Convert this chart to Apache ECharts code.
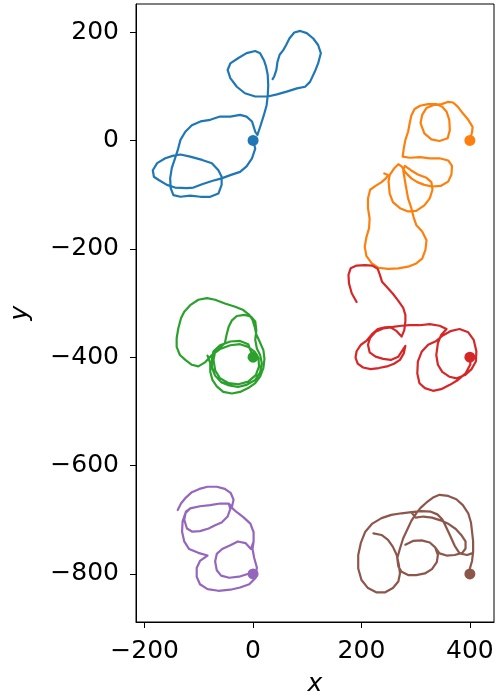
<!DOCTYPE html>
<html>
<head>
<meta charset="utf-8">
<script src="https://cdn.jsdelivr.net/npm/echarts@6/dist/echarts.min.js"></script>
<style>
  html, body { margin: 0; padding: 0; background: #fff; }
  #chart { width: 503px; height: 698px; }
</style>
</head>
<body>
<div id="chart"></div>
<script>
// Six 2-D random walks, each starting at a grid point (dot marks the start).
const walkBlue = [[0,0],[4,-15],[-2,-33],[-12,-48],[-24,-58],[-42,-64],[-58,-70],[-76,-75],[-94,-81],[-110,-87],[-122,-88],[-144,-87],[-159,-82],[-174,-73],[-183,-67],[-185,-55],[-177,-42],[-162,-33],[-147,-28],[-134,-26],[-116,-30],[-94,-36],[-76,-42],[-64,-55],[-58,-67],[-58,-82],[-64,-98],[-79,-104],[-97,-104],[-116,-102],[-134,-104],[-147,-101],[-152,-88],[-153,-70],[-150,-51],[-144,-33],[-139,-18],[-134,1],[-125,16],[-113,28],[-97,35],[-79,38],[-61,44],[-42,44],[-24,47],[-12,44],[-2,35],[4,16],[8,10],[14,28],[20,47],[25,65],[27,82],[28,102],[27,121],[24,136],[20,148],[13,161],[4,165],[-12,161],[-27,152],[-42,142],[-47,130],[-42,115],[-30,99],[-15,87],[4,81],[27,81],[44,85],[62,90],[81,96],[96,99],[105,108],[114,127],[120,142],[125,161],[120,176],[111,188],[99,198],[87,202],[76,199],[67,188],[61,176],[56,167],[49,158],[45,145],[43,130],[39,118],[36,113]];

const walkOrange = [[400,0],[404,15],[405,25],[397,38],[387,50],[378,62],[369,70],[359,71],[348,67],[332,65],[320,60],[312,47],[309,32],[316,13],[329,2],[344,-1],[359,4],[363,19],[362,38],[357,53],[349,62],[338,67],[323,67],[308,64],[298,58],[292,46],[289,32],[286,16],[281,1],[278,-15],[276,-30],[289,-32],[308,-31],[326,-33],[344,-33],[360,-37],[367,-47],[366,-63],[360,-76],[346,-84],[330,-85],[316,-82],[303,-77],[292,-70],[281,-59],[274,-48],[268,-44],[260,-52],[252,-64],[250,-76],[252,-98],[258,-114],[271,-125],[286,-131],[301,-130],[316,-120],[326,-107],[331,-91],[329,-77],[320,-69],[304,-63],[291,-55],[280,-47],[277,-55],[279,-67],[282,-85],[286,-107],[292,-125],[296,-141],[301,-156],[312,-168],[320,-184],[318,-202],[312,-218],[301,-227],[286,-233],[268,-236],[249,-237],[231,-235],[219,-227],[209,-213],[206,-196],[209,-179],[214,-162],[215,-144],[212,-125],[212,-107],[216,-91],[226,-84],[237,-77],[246,-69],[249,-64],[242,-61]];

const walkGreen = [[0,-400],[-9,-376],[-24,-370],[-42,-371],[-61,-378],[-73,-389],[-76,-402],[-76,-419],[-70,-434],[-59,-446],[-44,-452],[-28,-455],[-12,-451],[4,-442],[13,-428],[16,-411],[13,-396],[7,-384],[4,-368],[6,-350],[4,-334],[-4,-325],[-16,-322],[-30,-324],[-39,-332],[-45,-344],[-49,-359],[-52,-374],[-70,-390],[-73,-405],[-70,-424],[-61,-439],[-45,-448],[-27,-450],[-9,-445],[5,-433],[11,-417],[10,-402],[3,-390],[-9,-381],[-24,-376],[-42,-378],[-61,-385],[-76,-396],[-88,-409],[-101,-417],[-113,-414],[-125,-405],[-135,-396],[-141,-381],[-141,-365],[-138,-347],[-133,-328],[-127,-316],[-116,-304],[-101,-294],[-85,-291],[-70,-294],[-52,-301],[-33,-307],[-18,-313],[-7,-322],[-1,-331],[3,-344],[6,-358],[12,-371],[19,-387],[21,-403],[19,-420],[13,-436],[4,-448],[-9,-457],[-24,-464],[-39,-467],[-55,-464],[-67,-454],[-75,-442],[-79,-427],[-79,-411],[-84,-397]];

const walkRed = [[400,-400],[401,-413],[392,-430],[378,-442],[363,-451],[347,-459],[332,-462],[317,-457],[307,-448],[303,-430],[304,-408],[311,-390],[323,-377],[338,-370],[350,-360],[364,-352],[381,-348],[397,-354],[407,-368],[412,-389],[411,-408],[403,-422],[391,-433],[376,-439],[362,-436],[349,-427],[341,-414],[338,-396],[341,-374],[347,-359],[357,-348],[344,-342],[326,-339],[307,-341],[289,-341],[274,-342],[258,-344],[243,-345],[230,-348],[219,-358],[209,-370],[199,-377],[191,-389],[189,-401],[193,-412],[203,-419],[217,-422],[232,-420],[247,-417],[260,-412],[271,-405],[278,-393],[281,-379],[268,-399],[254,-405],[240,-403],[226,-399],[215,-391],[212,-377],[216,-364],[226,-353],[240,-347],[254,-345],[265,-352],[274,-362],[279,-350],[281,-334],[281,-322],[277,-309],[268,-296],[258,-283],[248,-272],[238,-261],[234,-248],[230,-237],[220,-231],[206,-230],[191,-231],[180,-236],[176,-248],[177,-264],[182,-282],[191,-298]];

const walkPurple = [[0,-800],[-10,-800],[-26,-805],[-44,-807],[-59,-803],[-67,-793],[-70,-777],[-67,-763],[-57,-754],[-42,-747],[-28,-740],[-14,-743],[-4,-754],[1,-740],[1,-723],[-5,-707],[-18,-695],[-30,-686],[-39,-678],[-30,-686],[-18,-695],[-5,-707],[1,-723],[1,-740],[-1,-754],[2,-770],[7,-788],[4,-808],[-7,-819],[-24,-825],[-42,-829],[-64,-831],[-84,-828],[-98,-819],[-104,-805],[-104,-789],[-98,-776],[-84,-766],[-101,-761],[-118,-754],[-127,-740],[-131,-722],[-130,-703],[-125,-688],[-116,-679],[-98,-675],[-79,-673],[-61,-670],[-45,-670],[-42,-680],[-47,-694],[-58,-705],[-70,-710],[-82,-716],[-98,-721],[-112,-722],[-122,-716],[-127,-700],[-124,-685],[-116,-679],[-98,-675],[-79,-673],[-61,-670],[-45,-670],[-39,-676],[-36,-663],[-41,-651],[-52,-643],[-67,-639],[-84,-639],[-99,-643],[-113,-649],[-124,-659],[-133,-670],[-139,-682]];

const walkBrown = [[400,-800],[400,-790],[404,-776],[406,-759],[406,-740],[404,-722],[402,-705],[397,-688],[387,-673],[375,-662],[360,-656],[344,-654],[332,-659],[320,-668],[309,-678],[301,-688],[292,-702],[285,-717],[277,-734],[271,-753],[266,-771],[268,-786],[274,-796],[286,-802],[301,-802],[317,-799],[330,-791],[339,-778],[341,-765],[336,-751],[326,-742],[311,-738],[295,-739],[281,-746],[295,-739],[311,-738],[326,-742],[336,-751],[344,-762],[357,-766],[372,-765],[386,-761],[392,-753],[392,-740],[384,-728],[374,-717],[361,-708],[346,-701],[330,-696],[314,-694],[300,-696],[292,-686],[311,-684],[328,-685],[340,-690],[349,-699],[355,-711],[363,-728],[372,-748],[381,-762],[395,-765],[406,-761],[395,-765],[381,-762],[372,-748],[363,-728],[355,-711],[349,-699],[340,-690],[328,-685],[311,-684],[292,-686],[274,-688],[255,-691],[237,-697],[220,-707],[207,-722],[199,-742],[194,-765],[194,-790],[200,-811],[212,-826],[228,-834],[243,-834],[258,-826],[268,-814],[271,-799],[269,-783],[265,-765],[258,-750],[249,-737],[237,-728],[222,-725]];

const walks = [walkBlue, walkOrange, walkGreen, walkRed, walkPurple, walkBrown];
const colors = ['#1f77b4', '#ff7f0e', '#2ca02c', '#d62728', '#9467bd', '#8c564b'];

const xTicks = [-200, 0, 200, 400];
const yTicks = [200, 0, -200, -400, -600, -800];

const minusSign = v => String(v).replace('-', '\u2212');
const font = 'DejaVu Sans';

const series = [];
walks.forEach((w, i) => {
  series.push({
    type: 'line',
    data: w,
    showSymbol: false,
    symbol: 'none',
    lineStyle: { color: colors[i], width: 2.2, join: 'round', cap: 'round' },
    z: 2,
    silent: true,
    animation: false
  });
});
walks.forEach((w, i) => {
  series.push({
    type: 'scatter',
    data: [w[0]],
    symbolSize: 11,
    itemStyle: { color: colors[i], opacity: 1 },
    z: 3,
    silent: true,
    animation: false
  });
});

const chart = echarts.init(document.getElementById('chart'), null, { renderer: 'canvas' });
chart.setOption({
  backgroundColor: '#fff',
  animation: false,
  grid: {
    left: 136, right: 9, top: 4, bottom: 76,
    containLabel: false,
    outerBoundsMode: 'none',
    show: true, borderColor: '#000', borderWidth: 1, backgroundColor: 'transparent'
  },
  xAxis: {
    type: 'value',
    min: -216, max: 444.5,
    name: 'x',
    nameLocation: 'middle',
    nameGap: 50,
    nameTextStyle: { fontFamily: font, fontSize: 25, fontStyle: 'italic', color: '#000' },
    axisLine: { show: true, onZero: false, lineStyle: { color: '#000', width: 1 } },
    axisTick: { show: true, length: 6, lineStyle: { color: '#000', width: 1 }, customValues: xTicks },
    axisLabel: { fontFamily: font, fontSize: 25, color: '#000', margin: 17, customValues: xTicks, formatter: minusSign },
    splitLine: { show: false }
  },
  yAxis: {
    type: 'value',
    min: -888.6, max: 251.7,
    name: 'y',
    nameLocation: 'middle',
    nameGap: 103,
    nameRotate: 90,
    nameTextStyle: { fontFamily: font, fontSize: 25, fontStyle: 'italic', color: '#000' },
    axisLine: { show: true, onZero: false, lineStyle: { color: '#000', width: 1 } },
    axisTick: { show: true, length: 6, lineStyle: { color: '#000', width: 1 }, customValues: yTicks },
    axisLabel: { fontFamily: font, fontSize: 25, color: '#000', margin: 17, customValues: yTicks, formatter: minusSign },
    splitLine: { show: false }
  },
  series: series
});
</script>
</body>
</html>
